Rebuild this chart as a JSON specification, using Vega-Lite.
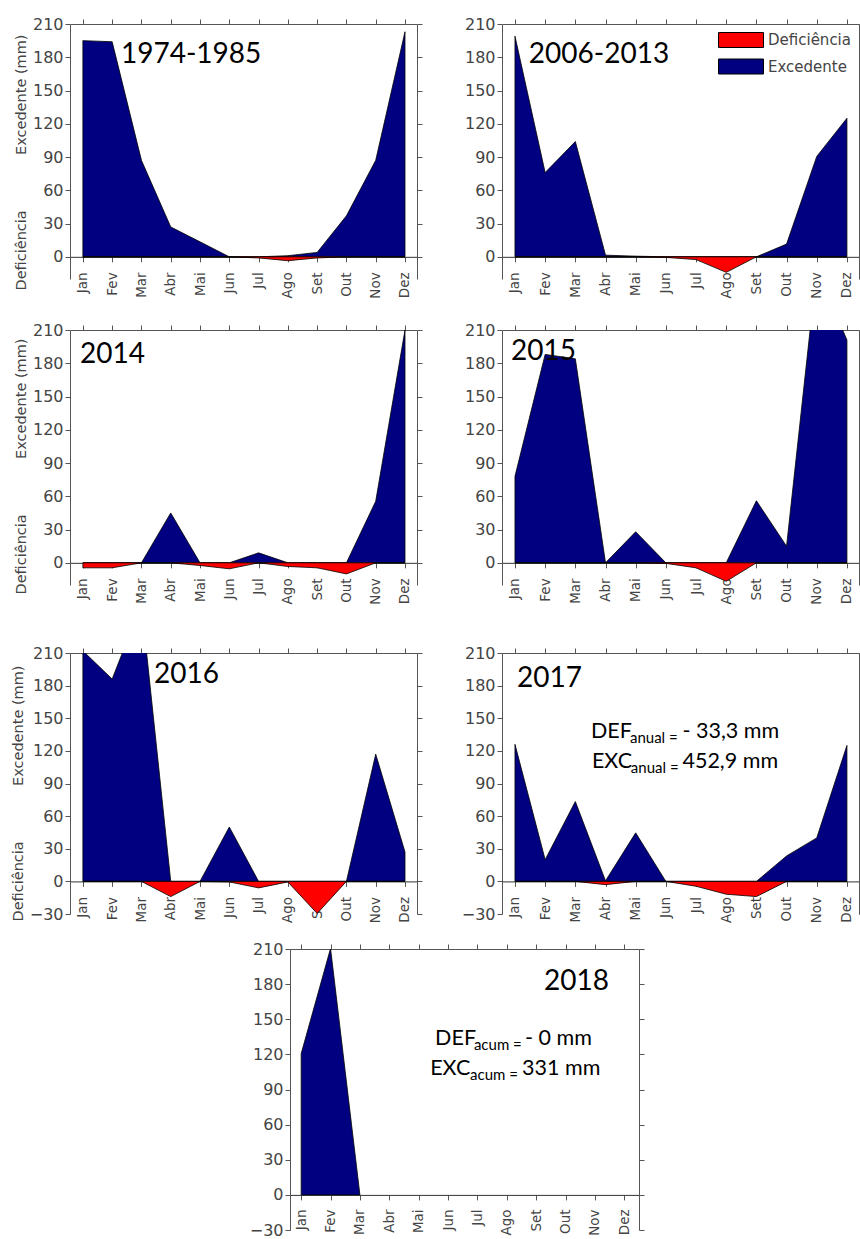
{
"$schema": "https://vega.github.io/schema/vega-lite/v6.json",
"padding": {"left": 10, "top": 16, "right": 0, "bottom": 0},
"datasets": {
"balanco": [
{"periodo":"1974-1985","mes":1,"tipo":"Excedente","mm":195},{"periodo":"1974-1985","mes":2,"tipo":"Excedente","mm":194},{"periodo":"1974-1985","mes":3,"tipo":"Excedente","mm":87},{"periodo":"1974-1985","mes":4,"tipo":"Excedente","mm":27},{"periodo":"1974-1985","mes":5,"tipo":"Excedente","mm":13.5},{"periodo":"1974-1985","mes":6,"tipo":"Excedente","mm":0},{"periodo":"1974-1985","mes":7,"tipo":"Excedente","mm":0},{"periodo":"1974-1985","mes":8,"tipo":"Excedente","mm":1},{"periodo":"1974-1985","mes":9,"tipo":"Excedente","mm":4},{"periodo":"1974-1985","mes":10,"tipo":"Excedente","mm":37},{"periodo":"1974-1985","mes":11,"tipo":"Excedente","mm":87},{"periodo":"1974-1985","mes":12,"tipo":"Excedente","mm":203},
{"periodo":"1974-1985","mes":1,"tipo":"Deficiência","mm":0},{"periodo":"1974-1985","mes":2,"tipo":"Deficiência","mm":0},{"periodo":"1974-1985","mes":3,"tipo":"Deficiência","mm":0},{"periodo":"1974-1985","mes":4,"tipo":"Deficiência","mm":0},{"periodo":"1974-1985","mes":5,"tipo":"Deficiência","mm":0},{"periodo":"1974-1985","mes":6,"tipo":"Deficiência","mm":0},{"periodo":"1974-1985","mes":7,"tipo":"Deficiência","mm":-1},{"periodo":"1974-1985","mes":8,"tipo":"Deficiência","mm":-3.5},{"periodo":"1974-1985","mes":9,"tipo":"Deficiência","mm":-1},{"periodo":"1974-1985","mes":10,"tipo":"Deficiência","mm":0},{"periodo":"1974-1985","mes":11,"tipo":"Deficiência","mm":0},{"periodo":"1974-1985","mes":12,"tipo":"Deficiência","mm":0},
{"periodo":"2006-2013","mes":1,"tipo":"Excedente","mm":199},{"periodo":"2006-2013","mes":2,"tipo":"Excedente","mm":76},{"periodo":"2006-2013","mes":3,"tipo":"Excedente","mm":104},{"periodo":"2006-2013","mes":4,"tipo":"Excedente","mm":1.5},{"periodo":"2006-2013","mes":5,"tipo":"Excedente","mm":0.6},{"periodo":"2006-2013","mes":6,"tipo":"Excedente","mm":0},{"periodo":"2006-2013","mes":7,"tipo":"Excedente","mm":0},{"periodo":"2006-2013","mes":8,"tipo":"Excedente","mm":0},{"periodo":"2006-2013","mes":9,"tipo":"Excedente","mm":0},{"periodo":"2006-2013","mes":10,"tipo":"Excedente","mm":11.5},{"periodo":"2006-2013","mes":11,"tipo":"Excedente","mm":90.6},{"periodo":"2006-2013","mes":12,"tipo":"Excedente","mm":125},
{"periodo":"2006-2013","mes":1,"tipo":"Deficiência","mm":0},{"periodo":"2006-2013","mes":2,"tipo":"Deficiência","mm":0},{"periodo":"2006-2013","mes":3,"tipo":"Deficiência","mm":0},{"periodo":"2006-2013","mes":4,"tipo":"Deficiência","mm":0},{"periodo":"2006-2013","mes":5,"tipo":"Deficiência","mm":0},{"periodo":"2006-2013","mes":6,"tipo":"Deficiência","mm":-0.5},{"periodo":"2006-2013","mes":7,"tipo":"Deficiência","mm":-2.5},{"periodo":"2006-2013","mes":8,"tipo":"Deficiência","mm":-14},{"periodo":"2006-2013","mes":9,"tipo":"Deficiência","mm":0},{"periodo":"2006-2013","mes":10,"tipo":"Deficiência","mm":0},{"periodo":"2006-2013","mes":11,"tipo":"Deficiência","mm":0},{"periodo":"2006-2013","mes":12,"tipo":"Deficiência","mm":0},
{"periodo":"2014","mes":1,"tipo":"Excedente","mm":0},{"periodo":"2014","mes":2,"tipo":"Excedente","mm":0},{"periodo":"2014","mes":3,"tipo":"Excedente","mm":0},{"periodo":"2014","mes":4,"tipo":"Excedente","mm":45},{"periodo":"2014","mes":5,"tipo":"Excedente","mm":0},{"periodo":"2014","mes":6,"tipo":"Excedente","mm":0},{"periodo":"2014","mes":7,"tipo":"Excedente","mm":9},{"periodo":"2014","mes":8,"tipo":"Excedente","mm":0},{"periodo":"2014","mes":9,"tipo":"Excedente","mm":0},{"periodo":"2014","mes":10,"tipo":"Excedente","mm":0},{"periodo":"2014","mes":11,"tipo":"Excedente","mm":55.5},{"periodo":"2014","mes":12,"tipo":"Excedente","mm":210},
{"periodo":"2014","mes":1,"tipo":"Deficiência","mm":-4.5},{"periodo":"2014","mes":2,"tipo":"Deficiência","mm":-4.5},{"periodo":"2014","mes":3,"tipo":"Deficiência","mm":0},{"periodo":"2014","mes":4,"tipo":"Deficiência","mm":0},{"periodo":"2014","mes":5,"tipo":"Deficiência","mm":-2.4},{"periodo":"2014","mes":6,"tipo":"Deficiência","mm":-5.4},{"periodo":"2014","mes":7,"tipo":"Deficiência","mm":0},{"periodo":"2014","mes":8,"tipo":"Deficiência","mm":-3.3},{"periodo":"2014","mes":9,"tipo":"Deficiência","mm":-4.5},{"periodo":"2014","mes":10,"tipo":"Deficiência","mm":-10},{"periodo":"2014","mes":11,"tipo":"Deficiência","mm":0},{"periodo":"2014","mes":12,"tipo":"Deficiência","mm":0},
{"periodo":"2015","mes":1,"tipo":"Excedente","mm":78},{"periodo":"2015","mes":2,"tipo":"Excedente","mm":188},{"periodo":"2015","mes":3,"tipo":"Excedente","mm":184},{"periodo":"2015","mes":4,"tipo":"Excedente","mm":0},{"periodo":"2015","mes":5,"tipo":"Excedente","mm":28},{"periodo":"2015","mes":6,"tipo":"Excedente","mm":0},{"periodo":"2015","mes":7,"tipo":"Excedente","mm":0},{"periodo":"2015","mes":8,"tipo":"Excedente","mm":0},{"periodo":"2015","mes":9,"tipo":"Excedente","mm":56},{"periodo":"2015","mes":10,"tipo":"Excedente","mm":15},{"periodo":"2015","mes":11,"tipo":"Excedente","mm":265},{"periodo":"2015","mes":12,"tipo":"Excedente","mm":201},
{"periodo":"2015","mes":1,"tipo":"Deficiência","mm":0},{"periodo":"2015","mes":2,"tipo":"Deficiência","mm":0},{"periodo":"2015","mes":3,"tipo":"Deficiência","mm":0},{"periodo":"2015","mes":4,"tipo":"Deficiência","mm":0},{"periodo":"2015","mes":5,"tipo":"Deficiência","mm":0},{"periodo":"2015","mes":6,"tipo":"Deficiência","mm":-0.5},{"periodo":"2015","mes":7,"tipo":"Deficiência","mm":-4.5},{"periodo":"2015","mes":8,"tipo":"Deficiência","mm":-16.7},{"periodo":"2015","mes":9,"tipo":"Deficiência","mm":0},{"periodo":"2015","mes":10,"tipo":"Deficiência","mm":0},{"periodo":"2015","mes":11,"tipo":"Deficiência","mm":0},{"periodo":"2015","mes":12,"tipo":"Deficiência","mm":0},
{"periodo":"2016","mes":1,"tipo":"Excedente","mm":212},{"periodo":"2016","mes":2,"tipo":"Excedente","mm":186},{"periodo":"2016","mes":3,"tipo":"Excedente","mm":255},{"periodo":"2016","mes":4,"tipo":"Excedente","mm":0},{"periodo":"2016","mes":5,"tipo":"Excedente","mm":0},{"periodo":"2016","mes":6,"tipo":"Excedente","mm":50},{"periodo":"2016","mes":7,"tipo":"Excedente","mm":0},{"periodo":"2016","mes":8,"tipo":"Excedente","mm":0},{"periodo":"2016","mes":9,"tipo":"Excedente","mm":0},{"periodo":"2016","mes":10,"tipo":"Excedente","mm":0},{"periodo":"2016","mes":11,"tipo":"Excedente","mm":117},{"periodo":"2016","mes":12,"tipo":"Excedente","mm":27},
{"periodo":"2016","mes":1,"tipo":"Deficiência","mm":0},{"periodo":"2016","mes":2,"tipo":"Deficiência","mm":0},{"periodo":"2016","mes":3,"tipo":"Deficiência","mm":0},{"periodo":"2016","mes":4,"tipo":"Deficiência","mm":-14},{"periodo":"2016","mes":5,"tipo":"Deficiência","mm":0},{"periodo":"2016","mes":6,"tipo":"Deficiência","mm":-0.5},{"periodo":"2016","mes":7,"tipo":"Deficiência","mm":-6},{"periodo":"2016","mes":8,"tipo":"Deficiência","mm":-0.5},{"periodo":"2016","mes":9,"tipo":"Deficiência","mm":-29.5},{"periodo":"2016","mes":10,"tipo":"Deficiência","mm":0},{"periodo":"2016","mes":11,"tipo":"Deficiência","mm":0},{"periodo":"2016","mes":12,"tipo":"Deficiência","mm":0},
{"periodo":"2017","mes":1,"tipo":"Excedente","mm":126},{"periodo":"2017","mes":2,"tipo":"Excedente","mm":20},{"periodo":"2017","mes":3,"tipo":"Excedente","mm":73.4},{"periodo":"2017","mes":4,"tipo":"Excedente","mm":0.5},{"periodo":"2017","mes":5,"tipo":"Excedente","mm":44.6},{"periodo":"2017","mes":6,"tipo":"Excedente","mm":0},{"periodo":"2017","mes":7,"tipo":"Excedente","mm":0},{"periodo":"2017","mes":8,"tipo":"Excedente","mm":0},{"periodo":"2017","mes":9,"tipo":"Excedente","mm":0},{"periodo":"2017","mes":10,"tipo":"Excedente","mm":23.4},{"periodo":"2017","mes":11,"tipo":"Excedente","mm":40},{"periodo":"2017","mes":12,"tipo":"Excedente","mm":125},
{"periodo":"2017","mes":1,"tipo":"Deficiência","mm":0},{"periodo":"2017","mes":2,"tipo":"Deficiência","mm":0},{"periodo":"2017","mes":3,"tipo":"Deficiência","mm":0},{"periodo":"2017","mes":4,"tipo":"Deficiência","mm":-3},{"periodo":"2017","mes":5,"tipo":"Deficiência","mm":0},{"periodo":"2017","mes":6,"tipo":"Deficiência","mm":0},{"periodo":"2017","mes":7,"tipo":"Deficiência","mm":-4.5},{"periodo":"2017","mes":8,"tipo":"Deficiência","mm":-11.8},{"periodo":"2017","mes":9,"tipo":"Deficiência","mm":-14},{"periodo":"2017","mes":10,"tipo":"Deficiência","mm":0},{"periodo":"2017","mes":11,"tipo":"Deficiência","mm":0},{"periodo":"2017","mes":12,"tipo":"Deficiência","mm":0},
{"periodo":"2018","mes":1,"tipo":"Excedente","mm":120.5},{"periodo":"2018","mes":2,"tipo":"Excedente","mm":210.5},{"periodo":"2018","mes":3,"tipo":"Excedente","mm":0}
]
},
"config": {
"view": {"stroke": null},
"axis": {"grid": false, "domainColor": "#555555", "tickColor": "#555555", "labelColor": "#444444", "titleColor": "#444444", "labelFont": "DejaVu Sans", "titleFont": "DejaVu Sans", "labelFontSize": 16, "titleFontSize": 14.5, "titleFontWeight": "normal", "tickSize": 5, "labelPadding": 2, "zindex": 1, "labelFlush": false, "labelOverlap": false}
},
"spacing": 23,
"resolve": {"legend": {"color": "independent"}},
"vconcat": [
{"hconcat": [
 {"width": 347, "height": 255,
  "layer": [
   {"data": {"name": "balanco"}, "transform": [{"filter": "datum.periodo === '1974-1985'"}],
    "mark": {"type": "area", "clip": true, "stroke": "#000000", "strokeWidth": 0.8, "interpolate": "linear"},
    "encoding": {
     "x": {"field": "mes", "type": "quantitative", "scale": {"domain": [0.56, 12.41], "nice": false, "zero": false},
      "axis": {"orient": "bottom", "offset": -22.17, "values": [1,2,3,4,5,6,7,8,9,10,11,12], "labelExpr": "['Jan','Fev','Mar','Abr','Mai','Jun','Jul','Ago','Set','Out','Nov','Dez'][datum.value - 1]", "labelAngle": -90, "labelFontSize": 13.5, "labelPadding": 10, "title": null, "domainColor": "#333333"}},
     "y": {"field": "mm", "type": "quantitative", "scale": {"domain": [-20, 210], "nice": false, "zero": false},
      "axis": {"orient": "left", "values": [0,30,60,90,120,150,180,210], "title": "Deficiência\u00a0\u00a0\u00a0\u00a0\u00a0\u00a0\u00a0\u00a0\u00a0\u00a0\u00a0\u00a0Excedente (mm)", "titlePadding": 4, "titleY": 138}},
     "y2": {"datum": 0},
     "color": {"field": "tipo", "type": "nominal", "scale": {"domain": ["Deficiência", "Excedente"], "range": ["#ff0000", "#000080"]}, "legend": null}
    }},
   {"data": {"values": [{}]},
    "mark": {"type": "text", "text": "1974-1985", "font": "Lato", "fontSize": 28, "color": "#000000", "align": "left", "baseline": "alphabetic"},
    "encoding": {
     "x": {"datum": 2.3, "type": "quantitative", "scale": {"domain": [0.56, 12.41], "nice": false, "zero": false}, "axis": {"orient": "top", "values": [1,2,3,4,5,6,7,8,9,10,11,12], "labels": false, "title": null}},
     "y": {"datum": 174.8, "type": "quantitative", "scale": {"domain": [-20, 210], "nice": false, "zero": false}, "axis": {"orient": "right", "values": [0,30,60,90,120,150,180,210], "labels": false, "title": null}}
    }}
  ],
  "resolve": {"axis": {"x": "independent", "y": "independent"}}
 },
 {"width": 357, "height": 255,
  "layer": [
   {"data": {"name": "balanco"}, "transform": [{"filter": "datum.periodo === '2006-2013'"}],
    "mark": {"type": "area", "clip": true, "stroke": "#000000", "strokeWidth": 0.8, "interpolate": "linear"},
    "encoding": {
     "x": {"field": "mes", "type": "quantitative", "scale": {"domain": [0.57, 12.4], "nice": false, "zero": false},
      "axis": {"orient": "bottom", "offset": -22.17, "values": [1,2,3,4,5,6,7,8,9,10,11,12], "labelExpr": "['Jan','Fev','Mar','Abr','Mai','Jun','Jul','Ago','Set','Out','Nov','Dez'][datum.value - 1]", "labelAngle": -90, "labelFontSize": 13.5, "labelPadding": 10, "title": null, "domainColor": "#333333"}},
     "y": {"field": "mm", "type": "quantitative", "scale": {"domain": [-20, 210], "nice": false, "zero": false},
      "axis": {"orient": "left", "values": [0,30,60,90,120,150,180,210], "title": null}},
     "y2": {"datum": 0},
     "color": {"field": "tipo", "type": "nominal", "scale": {"domain": ["Deficiência", "Excedente"], "range": ["#ff0000", "#000080"]},
      "legend": {"orient": "top-right", "offset": 8, "title": null, "symbolType": "M-3,-1H3V1H-3Z", "symbolSize": 225, "symbolStrokeColor": "#000000", "symbolStrokeWidth": 1, "symbolOpacity": 1, "labelFont": "DejaVu Sans", "labelFontSize": 15, "labelColor": "#444444", "labelOffset": 19, "rowPadding": 6.5, "padding": 0}}
    }},
   {"data": {"values": [{}]},
    "mark": {"type": "text", "text": "2006-2013", "font": "Lato", "fontSize": 28, "color": "#000000", "align": "left", "baseline": "alphabetic"},
    "encoding": {
     "x": {"datum": 1.46, "type": "quantitative", "scale": {"domain": [0.57, 12.4], "nice": false, "zero": false}, "axis": {"orient": "top", "values": [1,2,3,4,5,6,7,8,9,10,11,12], "labels": false, "title": null}},
     "y": {"datum": 175, "type": "quantitative", "scale": {"domain": [-20, 210], "nice": false, "zero": false}, "axis": {"orient": "right", "values": [0,30,60,90,120,150,180,210], "labels": false, "title": null}}
    }}
  ],
  "resolve": {"axis": {"x": "independent", "y": "independent"}}
 }
], "spacing": 85, "bounds": "flush", "align": "none", "resolve": {"legend": {"color": "independent"}}},
{"spacing": 40, "resolve": {"legend": {"color": "independent"}}, "vconcat": [
{"hconcat": [
 {"width": 347, "height": 255,
  "layer": [
   {"data": {"name": "balanco"}, "transform": [{"filter": "datum.periodo === '2014'"}],
    "mark": {"type": "area", "clip": true, "stroke": "#000000", "strokeWidth": 0.8, "interpolate": "linear"},
    "encoding": {
     "x": {"field": "mes", "type": "quantitative", "scale": {"domain": [0.56, 12.41], "nice": false, "zero": false},
      "axis": {"orient": "bottom", "offset": -22.17, "values": [1,2,3,4,5,6,7,8,9,10,11,12], "labelExpr": "['Jan','Fev','Mar','Abr','Mai','Jun','Jul','Ago','Set','Out','Nov','Dez'][datum.value - 1]", "labelAngle": -90, "labelFontSize": 13.5, "labelPadding": 10, "title": null, "domainColor": "#333333"}},
     "y": {"field": "mm", "type": "quantitative", "scale": {"domain": [-20, 210], "nice": false, "zero": false},
      "axis": {"orient": "left", "values": [0,30,60,90,120,150,180,210], "title": "Deficiência\u00a0\u00a0\u00a0\u00a0\u00a0\u00a0\u00a0\u00a0\u00a0\u00a0\u00a0\u00a0Excedente (mm)", "titlePadding": 4, "titleY": 136}},
     "y2": {"datum": 0},
     "color": {"field": "tipo", "type": "nominal", "scale": {"domain": ["Deficiência", "Excedente"], "range": ["#ff0000", "#000080"]}, "legend": null}
    }},
   {"data": {"values": [{}]},
    "mark": {"type": "text", "text": "2014", "font": "Lato", "fontSize": 28, "color": "#000000", "align": "left", "baseline": "alphabetic"},
    "encoding": {
     "x": {"datum": 0.9, "type": "quantitative", "scale": {"domain": [0.56, 12.41], "nice": false, "zero": false}, "axis": {"orient": "top", "values": [1,2,3,4,5,6,7,8,9,10,11,12], "labels": false, "title": null}},
     "y": {"datum": 180, "type": "quantitative", "scale": {"domain": [-20, 210], "nice": false, "zero": false}, "axis": {"orient": "right", "values": [0,30,60,90,120,150,180,210], "labels": false, "title": null}}
    }}
  ],
  "resolve": {"axis": {"x": "independent", "y": "independent"}}
 },
 {"width": 357, "height": 255,
  "layer": [
   {"data": {"name": "balanco"}, "transform": [{"filter": "datum.periodo === '2015'"}],
    "mark": {"type": "area", "clip": true, "stroke": "#000000", "strokeWidth": 0.8, "interpolate": "linear"},
    "encoding": {
     "x": {"field": "mes", "type": "quantitative", "scale": {"domain": [0.57, 12.4], "nice": false, "zero": false},
      "axis": {"orient": "bottom", "offset": -22.17, "values": [1,2,3,4,5,6,7,8,9,10,11,12], "labelExpr": "['Jan','Fev','Mar','Abr','Mai','Jun','Jul','Ago','Set','Out','Nov','Dez'][datum.value - 1]", "labelAngle": -90, "labelFontSize": 13.5, "labelPadding": 10, "title": null, "domainColor": "#333333"}},
     "y": {"field": "mm", "type": "quantitative", "scale": {"domain": [-20, 210], "nice": false, "zero": false},
      "axis": {"orient": "left", "values": [0,30,60,90,120,150,180,210], "title": null}},
     "y2": {"datum": 0},
     "color": {"field": "tipo", "type": "nominal", "scale": {"domain": ["Deficiência", "Excedente"], "range": ["#ff0000", "#000080"]}, "legend": null}
    }},
   {"data": {"values": [{}]},
    "mark": {"type": "text", "text": "2015", "font": "Lato", "fontSize": 28, "color": "#000000", "align": "left", "baseline": "alphabetic"},
    "encoding": {
     "x": {"datum": 0.87, "type": "quantitative", "scale": {"domain": [0.57, 12.4], "nice": false, "zero": false}, "axis": {"orient": "top", "values": [1,2,3,4,5,6,7,8,9,10,11,12], "labels": false, "title": null}},
     "y": {"datum": 183, "type": "quantitative", "scale": {"domain": [-20, 210], "nice": false, "zero": false}, "axis": {"orient": "right", "values": [0,30,60,90,120,150,180,210], "labels": false, "title": null}}
    }}
  ],
  "resolve": {"axis": {"x": "independent", "y": "independent"}}
 }
], "spacing": 85, "bounds": "flush", "align": "none", "resolve": {"legend": {"color": "independent"}}},
{"spacing": 18, "resolve": {"legend": {"color": "independent"}}, "vconcat": [
{"hconcat": [
 {"width": 347, "height": 261,
  "layer": [
   {"data": {"name": "balanco"}, "transform": [{"filter": "datum.periodo === '2016'"}],
    "mark": {"type": "area", "clip": true, "stroke": "#000000", "strokeWidth": 0.8, "interpolate": "linear"},
    "encoding": {
     "x": {"field": "mes", "type": "quantitative", "scale": {"domain": [0.56, 12.41], "nice": false, "zero": false},
      "axis": {"orient": "bottom", "offset": -32.6, "values": [1,2,3,4,5,6,7,8,9,10,11,12], "labelExpr": "['Jan','Fev','Mar','Abr','Mai','Jun','Jul','Ago','Set','Out','Nov','Dez'][datum.value - 1]", "labelAngle": -90, "labelFontSize": 13.5, "labelPadding": 10, "title": null, "domainColor": "#333333"}},
     "y": {"field": "mm", "type": "quantitative", "scale": {"domain": [-30, 210], "nice": false, "zero": false},
      "axis": {"orient": "left", "values": [-30,0,30,60,90,120,150,180,210], "title": "Deficiência\u00a0\u00a0\u00a0\u00a0\u00a0\u00a0\u00a0\u00a0\u00a0\u00a0\u00a0\u00a0Excedente (mm)", "titlePadding": 4, "titleY": 140}},
     "y2": {"datum": 0},
     "color": {"field": "tipo", "type": "nominal", "scale": {"domain": ["Deficiência", "Excedente"], "range": ["#ff0000", "#000080"]}, "legend": null}
    }},
   {"data": {"values": [{}]},
    "mark": {"type": "text", "text": "2016", "font": "Lato", "fontSize": 28, "color": "#000000", "align": "left", "baseline": "alphabetic"},
    "encoding": {
     "x": {"datum": 3.43, "type": "quantitative", "scale": {"domain": [0.56, 12.41], "nice": false, "zero": false}, "axis": {"orient": "top", "values": [1,2,3,4,5,6,7,8,9,10,11,12], "labels": false, "title": null}},
     "y": {"datum": 182.4, "type": "quantitative", "scale": {"domain": [-30, 210], "nice": false, "zero": false}, "axis": {"orient": "right", "values": [-30,0,30,60,90,120,150,180,210], "labels": false, "title": null}}
    }}
  ],
  "resolve": {"axis": {"x": "independent", "y": "independent"}}
 },
 {"width": 357, "height": 261,
  "layer": [
   {"data": {"name": "balanco"}, "transform": [{"filter": "datum.periodo === '2017'"}],
    "mark": {"type": "area", "clip": true, "stroke": "#000000", "strokeWidth": 0.8, "interpolate": "linear"},
    "encoding": {
     "x": {"field": "mes", "type": "quantitative", "scale": {"domain": [0.57, 12.4], "nice": false, "zero": false},
      "axis": {"orient": "bottom", "offset": -32.6, "values": [1,2,3,4,5,6,7,8,9,10,11,12], "labelExpr": "['Jan','Fev','Mar','Abr','Mai','Jun','Jul','Ago','Set','Out','Nov','Dez'][datum.value - 1]", "labelAngle": -90, "labelFontSize": 13.5, "labelPadding": 10, "title": null, "domainColor": "#333333"}},
     "y": {"field": "mm", "type": "quantitative", "scale": {"domain": [-30, 210], "nice": false, "zero": false},
      "axis": {"orient": "left", "values": [-30,0,30,60,90,120,150,180,210], "title": null}},
     "y2": {"datum": 0},
     "color": {"field": "tipo", "type": "nominal", "scale": {"domain": ["Deficiência", "Excedente"], "range": ["#ff0000", "#000080"]}, "legend": null}
    }},
   {"data": {"values": [{}]},
    "mark": {"type": "text", "text": "2017", "font": "Lato", "fontSize": 28, "color": "#000000", "align": "left", "baseline": "alphabetic"},
    "encoding": {
     "x": {"datum": 1.07, "type": "quantitative", "scale": {"domain": [0.57, 12.4], "nice": false, "zero": false}, "axis": {"orient": "top", "values": [1,2,3,4,5,6,7,8,9,10,11,12], "labels": false, "title": null}},
     "y": {"datum": 178.8, "type": "quantitative", "scale": {"domain": [-30, 210], "nice": false, "zero": false}, "axis": {"orient": "right", "values": [-30,0,30,60,90,120,150,180,210], "labels": false, "title": null}}
    }},
   {"data": {"values": [{}]},
    "mark": {"type": "text", "text": "DEF", "font": "Lato", "fontSize": 21.5, "color": "#000000", "align": "left", "baseline": "alphabetic"},
    "encoding": {
     "x": {"datum": 3.52, "type": "quantitative", "scale": {"domain": [0.57, 12.4], "nice": false, "zero": false}, "axis": null},
     "y": {"datum": 131.9, "type": "quantitative", "scale": {"domain": [-30, 210], "nice": false, "zero": false}, "axis": null}
    }},
   {"data": {"values": [{}]},
    "mark": {"type": "text", "text": "anual =", "font": "Lato", "fontSize": 15, "color": "#000000", "align": "left", "baseline": "alphabetic"},
    "encoding": {
     "x": {"datum": 4.81, "type": "quantitative", "scale": {"domain": [0.57, 12.4], "nice": false, "zero": false}, "axis": null},
     "y": {"datum": 127.3, "type": "quantitative", "scale": {"domain": [-30, 210], "nice": false, "zero": false}, "axis": null}
    }},
   {"data": {"values": [{}]},
    "mark": {"type": "text", "text": "- 33,3 mm", "font": "Lato", "fontSize": 21.5, "color": "#000000", "align": "left", "baseline": "alphabetic"},
    "encoding": {
     "x": {"datum": 6.55, "type": "quantitative", "scale": {"domain": [0.57, 12.4], "nice": false, "zero": false}, "axis": null},
     "y": {"datum": 131.9, "type": "quantitative", "scale": {"domain": [-30, 210], "nice": false, "zero": false}, "axis": null}
    }},
   {"data": {"values": [{}]},
    "mark": {"type": "text", "text": "EXC", "font": "Lato", "fontSize": 21.5, "color": "#000000", "align": "left", "baseline": "alphabetic"},
    "encoding": {
     "x": {"datum": 3.55, "type": "quantitative", "scale": {"domain": [0.57, 12.4], "nice": false, "zero": false}, "axis": null},
     "y": {"datum": 104.3, "type": "quantitative", "scale": {"domain": [-30, 210], "nice": false, "zero": false}, "axis": null}
    }},
   {"data": {"values": [{}]},
    "mark": {"type": "text", "text": "anual =", "font": "Lato", "fontSize": 15, "color": "#000000", "align": "left", "baseline": "alphabetic"},
    "encoding": {
     "x": {"datum": 4.84, "type": "quantitative", "scale": {"domain": [0.57, 12.4], "nice": false, "zero": false}, "axis": null},
     "y": {"datum": 99.7, "type": "quantitative", "scale": {"domain": [-30, 210], "nice": false, "zero": false}, "axis": null}
    }},
   {"data": {"values": [{}]},
    "mark": {"type": "text", "text": "452,9 mm", "font": "Lato", "fontSize": 21.5, "color": "#000000", "align": "left", "baseline": "alphabetic"},
    "encoding": {
     "x": {"datum": 6.55, "type": "quantitative", "scale": {"domain": [0.57, 12.4], "nice": false, "zero": false}, "axis": null},
     "y": {"datum": 104.3, "type": "quantitative", "scale": {"domain": [-30, 210], "nice": false, "zero": false}, "axis": null}
    }}
  ],
  "resolve": {"axis": {"x": "independent", "y": "independent"}}
 }
], "spacing": 85, "bounds": "flush", "align": "none", "resolve": {"legend": {"color": "independent"}}},
{"hconcat": [
 {"width": 220, "height": 20, "data": {"values": []}, "mark": {"type": "point"}},
 {"width": 349, "height": 281,
  "layer": [
   {"data": {"name": "balanco"}, "transform": [{"filter": "datum.periodo === '2018'"}],
    "mark": {"type": "area", "clip": true, "stroke": "#000000", "strokeWidth": 0.8, "interpolate": "linear"},
    "encoding": {
     "x": {"field": "mes", "type": "quantitative", "scale": {"domain": [0.62, 12.5], "nice": false, "zero": false},
      "axis": {"orient": "bottom", "offset": -35.1, "values": [1,2,3,4,5,6,7,8,9,10,11,12], "labelExpr": "['Jan','Fev','Mar','Abr','Mai','Jun','Jul','Ago','Set','Out','Nov','Dez'][datum.value - 1]", "labelAngle": -90, "labelFontSize": 13.5, "labelPadding": 9, "title": null, "domainColor": "#333333"}},
     "y": {"field": "mm", "type": "quantitative", "scale": {"domain": [-30, 210], "nice": false, "zero": false},
      "axis": {"orient": "left", "values": [-30,0,30,60,90,120,150,180,210], "title": null}},
     "y2": {"datum": 0},
     "color": {"field": "tipo", "type": "nominal", "scale": {"domain": ["Deficiência", "Excedente"], "range": ["#ff0000", "#000080"]}, "legend": null}
    }},
   {"data": {"values": [{}]},
    "mark": {"type": "text", "text": "2018", "font": "Lato", "fontSize": 28, "color": "#000000", "align": "left", "baseline": "alphabetic"},
    "encoding": {
     "x": {"datum": 9.27, "type": "quantitative", "scale": {"domain": [0.62, 12.5], "nice": false, "zero": false}, "axis": {"orient": "top", "values": [1,2,3,4,5,6,7,8,9,10,11,12], "labels": false, "title": null}},
     "y": {"datum": 175, "type": "quantitative", "scale": {"domain": [-30, 210], "nice": false, "zero": false}, "axis": {"orient": "right", "values": [-30,0,30,60,90,120,150,180,210], "labels": false, "title": null}}
    }},
   {"data": {"values": [{}]},
    "mark": {"type": "text", "text": "DEF", "font": "Lato", "fontSize": 21.5, "color": "#000000", "align": "left", "baseline": "alphabetic"},
    "encoding": {
     "x": {"datum": 5.56, "type": "quantitative", "scale": {"domain": [0.62, 12.5], "nice": false, "zero": false}, "axis": null},
     "y": {"datum": 128, "type": "quantitative", "scale": {"domain": [-30, 210], "nice": false, "zero": false}, "axis": null}
    }},
   {"data": {"values": [{}]},
    "mark": {"type": "text", "text": "acum =", "font": "Lato", "fontSize": 15, "color": "#000000", "align": "left", "baseline": "alphabetic"},
    "encoding": {
     "x": {"datum": 6.88, "type": "quantitative", "scale": {"domain": [0.62, 12.5], "nice": false, "zero": false}, "axis": null},
     "y": {"datum": 123.8, "type": "quantitative", "scale": {"domain": [-30, 210], "nice": false, "zero": false}, "axis": null}
    }},
   {"data": {"values": [{}]},
    "mark": {"type": "text", "text": "- 0 mm", "font": "Lato", "fontSize": 21.5, "color": "#000000", "align": "left", "baseline": "alphabetic"},
    "encoding": {
     "x": {"datum": 8.62, "type": "quantitative", "scale": {"domain": [0.62, 12.5], "nice": false, "zero": false}, "axis": null},
     "y": {"datum": 128, "type": "quantitative", "scale": {"domain": [-30, 210], "nice": false, "zero": false}, "axis": null}
    }},
   {"data": {"values": [{}]},
    "mark": {"type": "text", "text": "EXC", "font": "Lato", "fontSize": 21.5, "color": "#000000", "align": "left", "baseline": "alphabetic"},
    "encoding": {
     "x": {"datum": 5.39, "type": "quantitative", "scale": {"domain": [0.62, 12.5], "nice": false, "zero": false}, "axis": null},
     "y": {"datum": 102.4, "type": "quantitative", "scale": {"domain": [-30, 210], "nice": false, "zero": false}, "axis": null}
    }},
   {"data": {"values": [{}]},
    "mark": {"type": "text", "text": "acum =", "font": "Lato", "fontSize": 15, "color": "#000000", "align": "left", "baseline": "alphabetic"},
    "encoding": {
     "x": {"datum": 6.75, "type": "quantitative", "scale": {"domain": [0.62, 12.5], "nice": false, "zero": false}, "axis": null},
     "y": {"datum": 98.1, "type": "quantitative", "scale": {"domain": [-30, 210], "nice": false, "zero": false}, "axis": null}
    }},
   {"data": {"values": [{}]},
    "mark": {"type": "text", "text": "331 mm", "font": "Lato", "fontSize": 21.5, "color": "#000000", "align": "left", "baseline": "alphabetic"},
    "encoding": {
     "x": {"datum": 8.52, "type": "quantitative", "scale": {"domain": [0.62, 12.5], "nice": false, "zero": false}, "axis": null},
     "y": {"datum": 102.4, "type": "quantitative", "scale": {"domain": [-30, 210], "nice": false, "zero": false}, "axis": null}
    }}
  ],
  "resolve": {"axis": {"x": "independent", "y": "independent"}}
 }
], "spacing": 0, "bounds": "flush", "align": "none", "resolve": {"legend": {"color": "independent"}}}
]}
]}
]
}
